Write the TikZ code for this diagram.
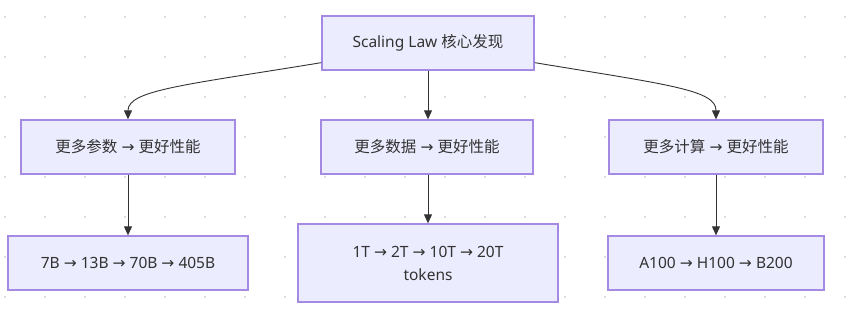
\documentclass[tikz,border=0pt]{standalone}
\usepackage{fontspec}
\setmainfont{Noto Sans}
\newfontfamily\cjk{Noto Sans CJK SC}
\newfontfamily\arrowfont{DejaVu Sans}
\newcommand{\rarr}{{\arrowfont →}}
\usetikzlibrary{arrows.meta}
\definecolor{boxfill}{HTML}{ECECFF}
\definecolor{boxline}{HTML}{A58AE3}
\definecolor{edgecol}{HTML}{333333}
\definecolor{dotcol}{HTML}{DCDCDC}
\tikzset{
  box/.style={draw=boxline, fill=boxfill, line width=1.3pt, inner sep=0pt,
    minimum height=54pt, align=center, text=edgecol,
    font=\fontsize{15.5}{23}\selectfont},
  edge/.style={draw=edgecol, line width=0.9pt, -{Triangle[length=9pt,width=8pt]}}
}
\begin{document}
\begin{tikzpicture}[x=1pt,y=-1pt]
\useasboundingbox (0,0) rectangle (853,313);
\fill[white] (0,0) rectangle (853,313);
\foreach \i in {0,...,21} {
  \foreach \j in {0,...,7} {
    \fill[dotcol] ({5+40*\i-0.9},{17+40*\j-0.9}) rectangle ++(1.8,1.8);
  }
}
\node[box, minimum width=212pt] (top) at (428,43) {Scaling Law {\cjk 核心发现}};
\node[box, minimum width=214pt] (m1) at (128,147) {{\cjk 更多参数} \rarr{} {\cjk 更好性能}};
\node[box, minimum width=212pt] (m2) at (427,147) {{\cjk 更多数据} \rarr{} {\cjk 更好性能}};
\node[box, minimum width=214pt] (m3) at (716,147) {{\cjk 更多计算} \rarr{} {\cjk 更好性能}};
\node[box, minimum width=240pt] (b1) at (128,263) {7B \rarr{} 13B \rarr{} 70B \rarr{} 405B};
\node[box, minimum width=260pt, minimum height=78pt] (b2) at (428,263) {1T \rarr{} 2T \rarr{} 10T \rarr{} 20T\\tokens};
\node[box, minimum width=216pt] (b3) at (716,263) {A100 \rarr{} H100 \rarr{} B200};
\coordinate (tl) at ([yshift=8pt]top.south west);
\coordinate (tr) at ([yshift=8pt]top.south east);
\draw[edge] (tl) .. controls (185,85) and (128,90) .. (m1.north);
\draw[edge] (top.south) -- (top.south |- m2.north);
\draw[edge] (tr) .. controls (670,85) and (716,90) .. (m3.north);
\draw[edge] (m1.south) -- (m1.south |- b1.north);
\draw[edge] (m2.south -| b2.north) -- (b2.north);
\draw[edge] (m3.south) -- (m3.south |- b3.north);
\end{tikzpicture}
\end{document}
